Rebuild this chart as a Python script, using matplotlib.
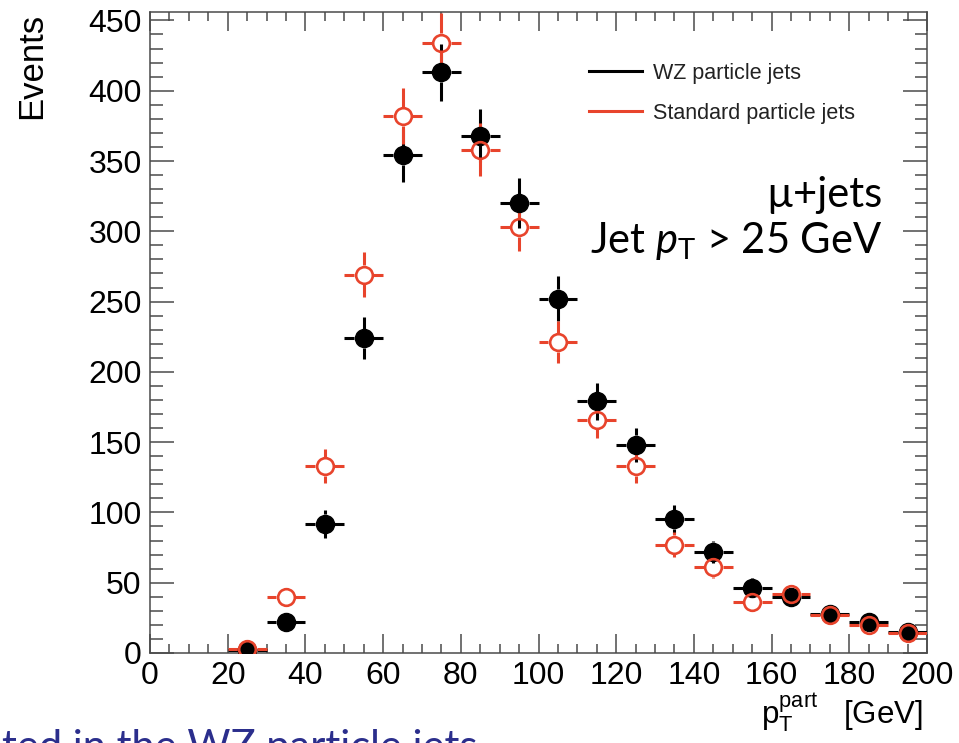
import numpy as np
import matplotlib
matplotlib.use("Agg")
import matplotlib.pyplot as plt
from matplotlib.lines import Line2D
from matplotlib.ticker import MultipleLocator

# bin centres of the particle-jet pT histogram [GeV], bins are 10 GeV wide
pt_centers = [25, 35, 45, 55, 65, 75, 85, 95, 105, 115,
              125, 135, 145, 155, 165, 175, 185, 195]
bin_half_width = 5

wz_events = [2, 22, 92, 224, 354, 413, 368, 320, 252, 179,
             148, 95, 72, 46, 40, 28, 22, 15]
wz_errors = [1.5, 5, 10, 15, 19, 20, 19, 18, 16, 13,
             12, 10, 8, 7, 6, 5, 5, 4]

std_events = [3, 40, 133, 269, 382, 434, 358, 303, 221, 166,
              133, 77, 61, 36, 42, 27, 20, 14]
std_errors = [2, 6, 12, 16, 20, 21, 19, 17, 15, 13,
              12, 9, 8, 6, 6, 5, 4, 4]

series_labels = ["WZ particle jets", "Standard particle jets"]

RED = "#e8442c"
FRAME = "#4a4a4a"

plt.rcParams["mathtext.fontset"] = "custom"
plt.rcParams["mathtext.rm"] = "Lato"
plt.rcParams["mathtext.it"] = "Lato:italic"


def draw_points(ax, x, y, yerr, color, filled, gap_px=9.5):
    """ROOT-style points: bars with a gap around the marker."""
    x = np.asarray(x, float)
    y = np.asarray(y, float)
    yerr = np.asarray(yerr, float)
    p0 = ax.transData.transform((0, 0))
    p1 = ax.transData.transform((1, 1))
    gx = gap_px / (p1[0] - p0[0])
    gy = gap_px / (p1[1] - p0[1])
    kw = dict(colors=color, linewidth=2.2, capstyle="butt", zorder=3)
    ax.hlines(y, x - bin_half_width, x - gx, **kw)
    ax.hlines(y, x + gx, x + bin_half_width, **kw)
    big = yerr > gy
    ax.vlines(x[big], y[big] - yerr[big], y[big] - gy, **kw)
    ax.vlines(x[big], y[big] + gy, y[big] + yerr[big], **kw)
    if filled:
        ax.plot(x, y, "o", ms=13, color=color, mec=color, zorder=4)
    else:
        ax.plot(x, y, "o", ms=12, mfc="none", mec=color, mew=1.9, zorder=5)


fig = plt.figure(figsize=(9.59, 7.43), dpi=100)
W, H = 959, 743
ax = fig.add_axes([150 / W, 1 - 653 / H, (927 - 150) / W, (653 - 12) / H])
ax.set_xlim(0, 200)
ax.set_ylim(0, 456)

draw_points(ax, pt_centers, wz_events, wz_errors, "black", True)
draw_points(ax, pt_centers, std_events, std_errors, RED, False)

ax.xaxis.set_major_locator(MultipleLocator(20))
ax.xaxis.set_minor_locator(MultipleLocator(5))
ax.yaxis.set_major_locator(MultipleLocator(50))
ax.yaxis.set_minor_locator(MultipleLocator(10))
ax.tick_params(which="both", direction="in", top=True, right=True,
               color=FRAME, width=1.1, labelsize=23)
ax.tick_params(axis="x", which="major", length=13.5, pad=6)
ax.tick_params(axis="x", which="minor", length=6.7)
ax.tick_params(axis="y", which="major", length=17, pad=6)
ax.tick_params(axis="y", which="minor", length=9)
for lab in ax.get_xticklabels() + ax.get_yticklabels():
    lab.set_fontfamily("Liberation Sans")
for sp in ax.spines.values():
    sp.set_color(FRAME)
    sp.set_linewidth(1.1)

handles = [Line2D([], [], color="black", lw=2.2),
           Line2D([], [], color=RED, lw=2.2)]
leg = ax.legend(handles, series_labels, loc="upper left",
                bbox_to_anchor=(589 / W, 1 - 63 / H),
                bbox_transform=fig.transFigure, frameon=False,
                borderaxespad=0, borderpad=0, handlelength=2.45,
                handletextpad=0.5, labelspacing=0.88,
                prop={"family": "Liberation Sans", "size": 15.5})
for t in leg.get_texts():
    t.set_color("#222222")

fig.text(882 / W, 1 - 207 / H, "\u00b5+jets", ha="right", va="baseline",
         fontsize=30, family=["Lato", "DejaVu Sans"])
fig.text(882 / W, 1 - 253 / H, r"Jet $p_\mathregular{T}$ > 25 GeV",
         ha="right", va="baseline", fontsize=30, family=["Lato", "DejaVu Sans"])

fig.text(923 / W, 1 - 723 / H, r"$\mathregular{p_{T}^{part}}$   [GeV]",
         ha="right", va="baseline", fontsize=22.5, family="Liberation Sans")
fig.text(32 / W, 1 - 13 / H, "Events", rotation=90, ha="center", va="top",
         fontsize=25, family="Liberation Sans")

# caption cut off by the bottom edge of the slide
fig.text(2 / W, 1 - 760 / H, "ted in the WZ particle jets", ha="left",
         va="baseline", fontsize=30, color="#2b2e8c",
         family=["Lato", "DejaVu Sans"])

fig.savefig("out.png", dpi=100)
